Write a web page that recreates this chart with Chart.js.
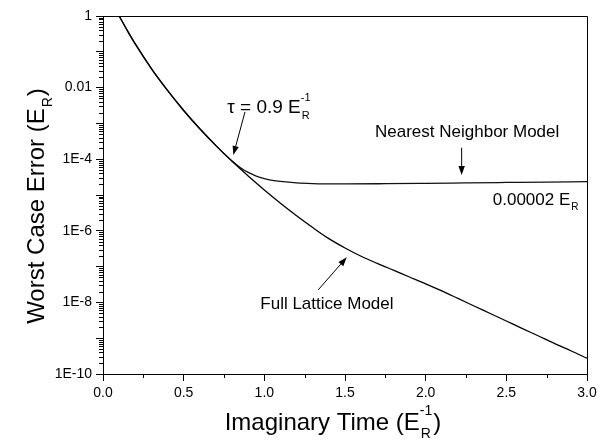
<!DOCTYPE html>
<html>
<head>
<meta charset="utf-8">
<script src="https://cdn.jsdelivr.net/npm/chart.js@4.4.0/dist/chart.umd.min.js"></script>
<style>
  body { margin: 0; background: #fff; }
  #wrap { width: 607px; height: 447px; position: relative; }
</style>
</head>
<body>
<div id="wrap"><canvas id="grafica"></canvas></div>
<script>
// valores
const fullTime  = [0.1, 0.15, 0.2, 0.3, 0.4, 0.5, 0.6, 0.7, 0.8, 0.9, 1.0, 1.1, 1.2, 1.3, 1.4, 1.5,
                   1.6, 1.7, 1.8, 1.9, 2.0, 2.1, 2.2, 2.3, 2.4, 2.5, 2.6, 2.7, 2.8, 2.9, 3.0];
const fullError = [1, 0.398, 0.166, 0.0339, 0.00832, 0.00229, 7.08e-4, 2.40e-4, 8.71e-5, 3.39e-5, 1.38e-5,
                   5.89e-6, 2.63e-6, 1.23e-6, 6.03e-7, 3.31e-7, 1.95e-7, 1.23e-7, 7.94e-8, 5.13e-8, 3.31e-8,
                   2.09e-8, 1.29e-8, 7.94e-9, 4.90e-9, 3.02e-9, 1.86e-9, 1.15e-9, 7.08e-10, 4.47e-10, 2.75e-10];

const nnTime  = [0.1, 0.15, 0.2, 0.3, 0.4, 0.5, 0.6, 0.7, 0.8, 0.85, 0.9, 0.95, 1.0, 1.05, 1.1, 1.2,
                 1.3, 1.4, 1.5, 1.75, 2.0, 2.25, 2.5, 2.75, 3.0];
const nnError = [1, 0.398, 0.166, 0.0339, 0.00832, 0.00229, 7.08e-4, 2.40e-4, 8.9e-5, 5.89e-5, 4.27e-5,
                 3.39e-5, 2.88e-5, 2.57e-5, 2.40e-5, 2.19e-5, 2.09e-5, 2.04e-5, 2.04e-5, 2.07e-5, 2.12e-5,
                 2.18e-5, 2.24e-5, 2.3e-5, 2.35e-5];

const xTicks = [0, 0.5, 1.0, 1.5, 2.0, 2.5, 3.0];
const xMinor = [0.25, 0.75, 1.25, 1.75, 2.25, 2.75];
const yDecades = [1, 1e-1, 1e-2, 1e-3, 1e-4, 1e-5, 1e-6, 1e-7, 1e-8, 1e-9, 1e-10];
const yLabelExp  = [0, -2, -4, -6, -8, -10];
const yLabelText = ['1', '0.01', '1E-4', '1E-6', '1E-8', '1E-10'];

const FONT = '"Liberation Sans", Arial, Helvetica, sans-serif';
Chart.defaults.color = '#000';
Chart.defaults.font.family = FONT;

const toPoints = (xs, ys) => xs.map((x, i) => ({ x: x, y: ys[i] }));

// texto con subindice / superindice (E_R, E_R^-1)
const richText = (ctx, x, y, size, before, sup, sub, after) => {
    ctx.font = size + 'px ' + FONT;
    ctx.fillText(before, x, y);
    let cx = x + ctx.measureText(before).width;
    const small = Math.round(size * 0.6);
    ctx.font = small + 'px ' + FONT;
    let w = 0;
    if (sup) { ctx.fillText(sup, cx, y - size * 0.64); w = ctx.measureText(sup).width; }
    if (sub) { ctx.fillText(sub, cx + 1, y + size * 0.32); w = Math.max(w, ctx.measureText(sub).width + 1); }
    cx += w + 1;
    if (after) { ctx.font = size + 'px ' + FONT; ctx.fillText(after, cx, y); cx += ctx.measureText(after).width; }
    return cx - x;
};

const richWidth = (ctx, size, before, sup, sub, after) => {
    ctx.font = size + 'px ' + FONT;
    let w = ctx.measureText(before).width + (after ? ctx.measureText(after).width : 0);
    ctx.font = Math.round(size * 0.6) + 'px ' + FONT;
    w += Math.max(sup ? ctx.measureText(sup).width : 0, sub ? ctx.measureText(sub).width + 1 : 0) + 1;
    return w;
};

const arrow = (ctx, x1, y1, x2, y2) => {
    const a = Math.atan2(y2 - y1, x2 - x1);
    const len = 9, half = 3.2;
    ctx.beginPath();
    ctx.moveTo(x1, y1);
    ctx.lineTo(x2 - Math.cos(a) * len, y2 - Math.sin(a) * len);
    ctx.stroke();
    ctx.beginPath();
    ctx.moveTo(x2, y2);
    ctx.lineTo(x2 - Math.cos(a) * len - Math.sin(a) * half, y2 - Math.sin(a) * len + Math.cos(a) * half);
    ctx.lineTo(x2 - Math.cos(a) * len + Math.sin(a) * half, y2 - Math.sin(a) * len - Math.cos(a) * half);
    ctx.closePath();
    ctx.fill();
};

const decoraciones = {
    id: 'decoraciones',
    afterDraw(chart) {
        const ctx = chart.ctx;
        const xs = chart.scales.x, ys = chart.scales.y;
        const area = chart.chartArea;
        const px = (t) => xs.getPixelForValue(t);
        const py = (v) => ys.getPixelForValue(v);
        ctx.save();
        ctx.strokeStyle = '#000';
        ctx.fillStyle = '#000';
        ctx.lineWidth = 1;

        // marco superior y derecho
        ctx.beginPath();
        ctx.moveTo(area.left, area.top + 0.5);
        ctx.lineTo(area.right + 0.5, area.top + 0.5);
        ctx.lineTo(area.right + 0.5, area.bottom);
        ctx.stroke();

        // ticks menores
        ctx.beginPath();
        xMinor.forEach(t => {
            const x = Math.round(px(t)) + 0.5;
            ctx.moveTo(x, area.bottom);
            ctx.lineTo(x, area.bottom + 4);
        });
        for (let e = -10; e < 0; e++) {
            for (let k = 2; k <= 9; k++) {
                const y = Math.round(py(k * Math.pow(10, e))) + 0.5;
                ctx.moveTo(area.left, y);
                ctx.lineTo(area.left - 4, y);
            }
        }
        ctx.stroke();

        // anotaciones
        ctx.textBaseline = 'alphabetic';
        ctx.textAlign = 'left';
        richText(ctx, px(0.77), py(Math.pow(10, -2.71)), 19, '\u03c4 = 0.9 E', '-1', 'R', '');
        arrow(ctx, px(0.88), py(Math.pow(10, -2.68)), px(0.808), py(Math.pow(10, -3.88)));

        ctx.font = '17px ' + FONT;
        ctx.fillText('Nearest Neighbor Model', px(1.686), py(Math.pow(10, -3.39)));
        arrow(ctx, px(2.223), py(Math.pow(10, -3.68)), px(2.223), py(Math.pow(10, -4.44)));

        richText(ctx, px(2.416), py(Math.pow(10, -5.28)), 17, '0.00002 E', '', 'R', '');

        ctx.font = '17px ' + FONT;
        ctx.fillText('Full Lattice Model', px(0.975), py(Math.pow(10, -8.19)));
        arrow(ctx, px(1.334), py(Math.pow(10, -7.65)), px(1.511), py(Math.pow(10, -6.74)));

        // titulos de ejes
        const wx = richWidth(ctx, 24, 'Imaginary Time (E', '-1', 'R', ')');
        richText(ctx, 333 - wx / 2, 430, 24, 'Imaginary Time (E', '-1', 'R', ')');

        const wy = richWidth(ctx, 24, 'Worst Case Error (E', '', 'R', ')');
        ctx.translate(44, 206);
        ctx.rotate(-Math.PI / 2);
        richText(ctx, -wy / 2, 0, 24, 'Worst Case Error (E', '', 'R', ')');
        ctx.restore();
    }
};

new Chart(document.querySelector('#grafica'), {
    type: 'line',
    data: {
        datasets: [
            {
                label: 'Full Lattice Model',
                data: toPoints(fullTime, fullError),
                borderColor: '#000',
                borderWidth: 1.3,
                pointRadius: 0,
                cubicInterpolationMode: 'monotone'
            },
            {
                label: 'Nearest Neighbor Model',
                data: toPoints(nnTime, nnError),
                borderColor: '#111',
                borderWidth: 1.3,
                pointRadius: 0,
                cubicInterpolationMode: 'monotone'
            }
        ]
    },
    options: {
        responsive: true,
        maintainAspectRatio: false,
        animation: false,
        events: [],
        layout: { padding: { left: 0, top: 16, right: 20, bottom: 0 } },
        plugins: { legend: { display: false }, tooltip: { enabled: false } },
        scales: {
            x: {
                type: 'linear',
                min: 0,
                max: 3,
                afterBuildTicks: (scale) => { scale.ticks = xTicks.map(v => ({ value: v })); },
                afterFit: (scale) => { scale.height = 73; },
                ticks: {
                    font: { size: 14 },
                    padding: 4,
                    maxRotation: 0,
                    autoSkip: false,
                    callback: (v) => Number(v).toFixed(1)
                },
                grid: { drawOnChartArea: false, drawTicks: true, tickLength: 7, color: '#000', lineWidth: 1 },
                border: { display: true, color: '#000', width: 1 }
            },
            y: {
                type: 'logarithmic',
                min: 1e-10,
                max: 1,
                afterBuildTicks: (scale) => { scale.ticks = yDecades.map(v => ({ value: v })); },
                afterFit: (scale) => { scale.width = 103; },
                ticks: {
                    font: { size: 14 },
                    padding: 4,
                    autoSkip: false,
                    callback: (v) => {
                        const i = yLabelExp.indexOf(Math.round(Math.log10(v)));
                        return i >= 0 ? yLabelText[i] : '';
                    }
                },
                grid: { drawOnChartArea: false, drawTicks: true, tickLength: 7, color: '#000', lineWidth: 1 },
                border: { display: true, color: '#000', width: 1 }
            }
        }
    },
    plugins: [decoraciones]
});
</script>
</body>
</html>
